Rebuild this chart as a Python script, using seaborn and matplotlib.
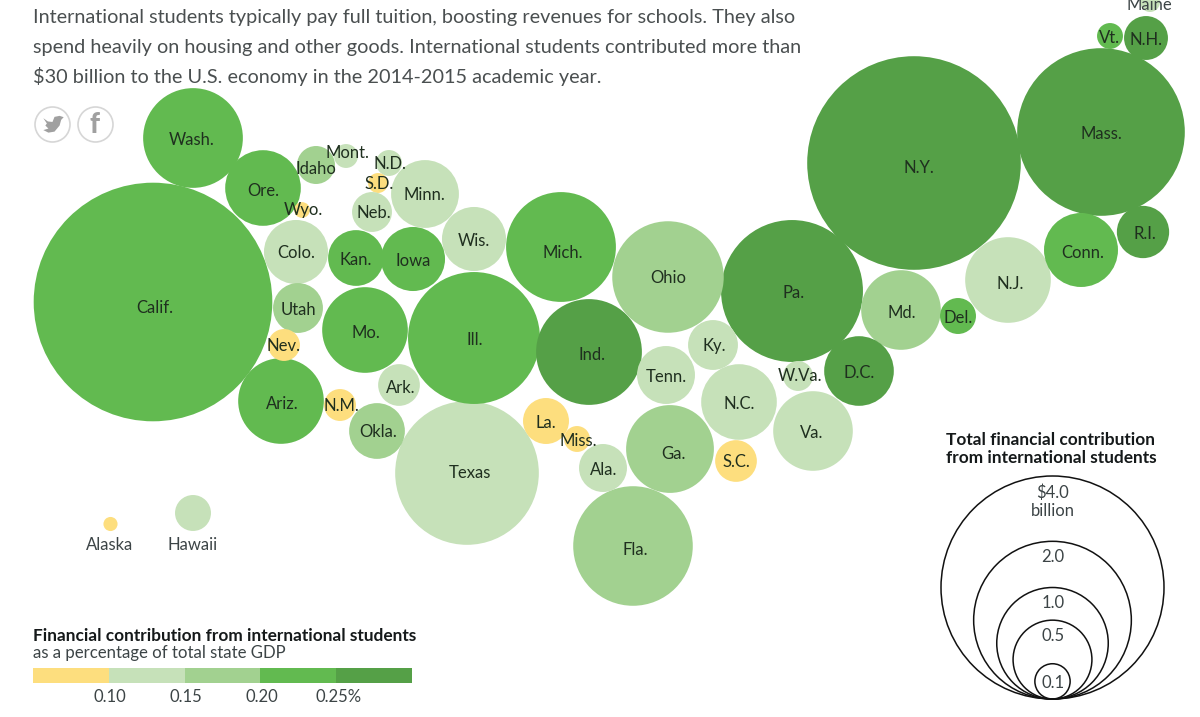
import numpy as np
import pandas as pd
import matplotlib
matplotlib.use("Agg")
import matplotlib.pyplot as plt
from matplotlib.path import Path
import seaborn as sns

states = ["Calif.", "N.Y.", "Mass.", "Pa.", "Texas", "Ill.", "Fla.", "Mich.", "Ind.", "Ohio",
          "Wash.", "Md.", "N.J.", "Ga.", "Va.", "N.C.", "Conn.", "Mo.", "Ariz.", "Ore.",
          "Minn.", "Colo.", "Wis.", "Iowa", "Kan.", "Okla.", "Utah", "Tenn.", "Ky.", "D.C.",
          "R.I.", "N.H.", "Vt.", "Maine", "Del.", "La.", "Miss.", "Ala.", "S.C.", "W.Va.",
          "Ark.", "N.M.", "Nev.", "Wyo.", "Idaho", "Mont.", "N.D.", "S.D.", "Neb.", "Alaska", "Hawaii"]
# Contribution in $ billion
billions = [4.58, 3.67, 2.26, 1.62, 1.66, 1.40, 1.15, 0.97, 0.90, 1.00,
            0.80, 0.51, 0.59, 0.62, 0.51, 0.46, 0.44, 0.59, 0.59, 0.46,
            0.37, 0.33, 0.33, 0.33, 0.25, 0.25, 0.20, 0.27, 0.20, 0.39,
            0.22, 0.155, 0.054, 0.032, 0.104, 0.17, 0.054, 0.185, 0.14, 0.072,
            0.14, 0.082, 0.082, 0.02, 0.116, 0.046, 0.054, 0.032, 0.128, 0.016, 0.104]
# Share of state GDP bin (0 = under 0.10 ... 4 = over 0.25%)
gdp_bin = [3, 4, 4, 4, 1, 3, 2, 3, 4, 2,
           3, 2, 1, 2, 1, 1, 3, 3, 3, 3,
           1, 1, 1, 3, 3, 2, 2, 1, 1, 4,
           4, 4, 3, 1, 3, 0, 0, 1, 0, 1,
           1, 0, 0, 0, 2, 1, 1, 0, 1, 0, 1]
# Cartogram position of each state
map_x = [153, 914, 1101, 792, 467, 474, 633, 561, 589, 668,
         193, 901, 1008, 670, 813, 739, 1081, 365, 281, 263,
         425, 296, 474, 413, 356, 377, 298, 666, 713, 859,
         1143, 1146, 1110, 1150, 958, 546, 577, 603, 736, 798,
         399, 340, 284, 302, 316, 346, 389, 378, 372, 110.5, 193]
map_y = [302, 163, 132, 291, 473, 338, 546, 247, 352, 277,
         138, 310, 280, 449, 431, 402, 250, 330, 401, 188,
         194, 252, 239, 259, 258, 431, 308, 375, 345, 371,
         232, 38, 36, 2, 316, 421, 439, 468, 461, 376,
         385, 405, 345, 210, 165, 156, 163, 183, 212, 524, 513]
label_x = [155, 919, 1101, 794, 470, 475, 635, 563, 592, 668,
           192, 902, 1010, 673, 812, 739, 1083, 366, 282, 263,
           424, 296, 474, 413, 356, 378, 298, 666, 714, 859,
           1145, 1146, 1109, 1149, 958, 546, 578, 604, 736, 800,
           401, 341, 283, 303, 316, 347, 390, 379, 374, 110, 193]
label_y = [307, 167, 133, 292, 472, 339, 549, 252, 354, 277,
           139, 312, 283, 453, 432, 403, 252, 332, 403, 190,
           194, 252, 240, 260, 259, 431, 309, 376, 345, 372,
           233, 39, 37, 4, 317, 422, 440, 469, 461, 375,
           387, 405, 345, 209, 168, 152, 163, 183, 212, 544, 544]

bin_colors = ["#FDDE7E", "#C6E1B9", "#A2D190", "#62BA50", "#55A047"]
bin_ticks = ["0.10", "0.15", "0.20", "0.25%"]
key_values = [4.0, 2.0, 1.0, 0.5, 0.1]
key_labels = ["$4.0", "billion", "2.0", "1.0", "0.5", "0.1"]
intro = ["International students typically pay full tuition, boosting revenues for schools. They also",
         "spend heavily on housing and other goods. International students contributed more than",
         "$30 billion to the U.S. economy in the 2014-2015 academic year."]

sns.set_theme(style="white")
plt.rcParams["font.family"] = ["Lato", "DejaVu Sans"]

W, H = 1200, 717
fig = plt.figure(figsize=(12, 7.17), dpi=100)
ax = fig.add_axes([0, 0, 1, 1])
ax.set_xlim(0, W)
ax.set_ylim(H, 0)

PT = 72 / fig.dpi              # points per pixel
R4 = 111.5                     # pixel radius of the $4.0 billion circle
S1 = (2 * R4 * PT) ** 2 / 4    # marker area per $1 billion
size_norm = (0, 5)
size_range = (0, 5 * S1)

df = pd.DataFrame({"state": states, "billions": billions, "bin": gdp_bin,
                   "x": map_x, "y": map_y, "lx": label_x, "ly": label_y})
sns.scatterplot(data=df, x="x", y="y", hue="bin", palette=dict(enumerate(bin_colors)),
                size="billions", sizes=size_range, size_norm=size_norm,
                linewidth=0, legend=False, ax=ax, zorder=2)

TXT = "#3c4446"
DARK = "#1f2f1f"
for r in df.itertuples():
    c = TXT if r.state in ("Alaska", "Hawaii", "Maine") else DARK
    ax.text(r.lx, r.ly + 1, r.state, ha="center", va="center", fontsize=12, color=c, zorder=5)

# Intro text
for line, yy in zip(intro, (18, 47, 77)):
    ax.text(33, yy, line, ha="left", va="center", fontsize=14.3, color="#4a4f50", zorder=6)

# Share icons
icons = pd.DataFrame({"x": [52, 95], "y": [124, 124]})
sns.scatterplot(data=icons, x="x", y="y", s=(2 * 17.5 * PT) ** 2, facecolor="white",
                edgecolor="#d6d6d6", linewidth=1.2, legend=False, ax=ax, zorder=3)
bird = Path([(-1, .62), (-.55, .3), (-.1, .25), (.1, .75), (.6, .85), (1, .72), (.75, .45), (.6, -.1),
             (.1, -.7), (-.5, -.8), (-1, -.55), (-.5, -.4), (-.8, -.1), (-.65, .1), (-1, .62)])
ax.scatter([53], [124], marker=bird, s=230 * PT ** 2 * 1.8, color="#a0a0a0", linewidths=0, zorder=4)
ax.text(94, 125, "f", ha="center", va="center", fontsize=20, fontweight="black",
        color="#a0a0a0", zorder=4)

# Colour key
ax.text(33, 636, "Financial contribution from international students", ha="left", va="center",
        fontsize=12.4, fontweight="bold", color="#15191a")
ax.text(33, 653, "as a percentage of total state GDP", ha="left", va="center",
        fontsize=12.1, color=TXT)
seg = (412 - 33) / len(bin_colors)
ax.barh([675.5] * len(bin_colors), [seg] * len(bin_colors), left=[33 + i * seg for i in range(len(bin_colors))],
        height=15, color=bin_colors, linewidth=0)
for i, t in enumerate(bin_ticks):
    ax.text(33 + (i + 1) * seg + (2.5 if i == 3 else 1), 697, t, ha="center", va="center",
            fontsize=12, color=TXT)

# Size key
key_x, key_bottom = 1052.5, 699
key = pd.DataFrame({"v": key_values})
key["x"] = key_x
key["y"] = [key_bottom - R4 * np.sqrt(v / 4) for v in key_values]
sns.scatterplot(data=key, x="x", y="y", size="v", sizes=size_range, size_norm=size_norm,
                facecolor="none", edgecolor="#111111", linewidth=1.1, legend=False, ax=ax, zorder=3)
ax.text(1051, 440, "Total financial contribution", ha="center", va="center",
        fontsize=12.4, fontweight="bold", color="#15191a")
ax.text(1051, 458, "from international students", ha="center", va="center",
        fontsize=12.4, fontweight="bold", color="#15191a")
for lab, yy in zip(key_labels, (493, 511, 557, 603, 636, 683)):
    ax.text(1053, yy, lab, ha="center", va="center", fontsize=12, color=TXT, zorder=4)

ax.set_axis_off()
fig.savefig("out.png", dpi=100, facecolor="white")
